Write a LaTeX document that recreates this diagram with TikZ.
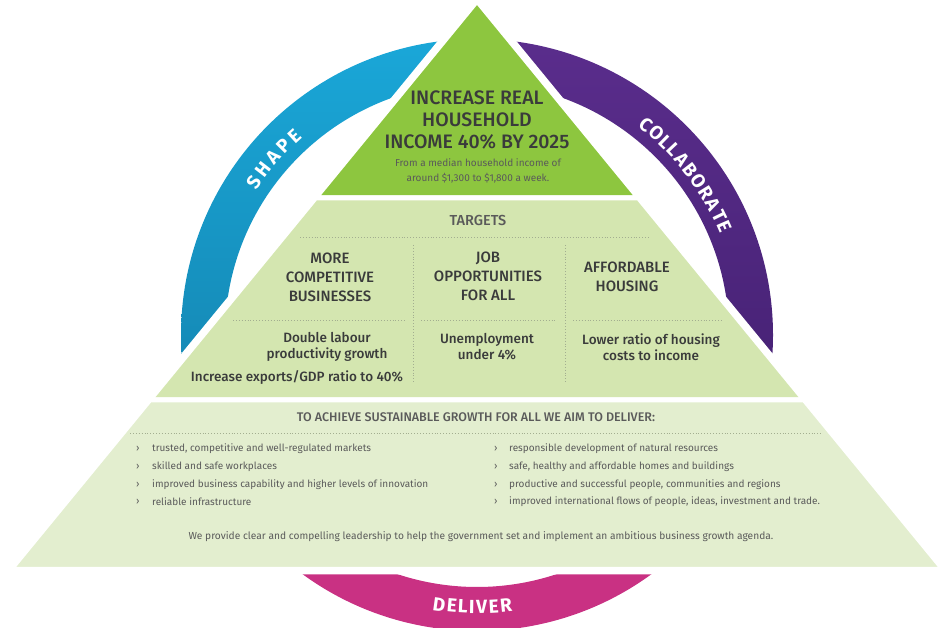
\documentclass[tikz,border=0pt]{standalone}
\usepackage{fontspec}
\setmainfont{Fira Sans}[BoldFont={* Medium}]
\newfontfamily\ringfont{Fira Sans}
\usetikzlibrary{positioning}

\definecolor{shapeblue}{HTML}{1AA7D8}
\definecolor{shapelight}{HTML}{1EB4E4}
\definecolor{shapedark}{HTML}{127AA4}
\definecolor{collabpurple}{HTML}{5A2D8C}
\definecolor{collabdark}{HTML}{3E1D6B}
\definecolor{deliverpink}{HTML}{E2449A}
\definecolor{deliverdark}{HTML}{C93183}
\definecolor{goalgreen}{HTML}{8DC63F}
\definecolor{targetgreen}{HTML}{D4E6B0}
\definecolor{deliverygreen}{HTML}{E3EECF}
\definecolor{inkgray}{HTML}{3A3B3B}
\definecolor{softgray}{HTML}{5A5A5A}
\definecolor{rulegray}{HTML}{A3AE90}

\tikzset{
    band/.style={draw=white, line width=5pt, line join=miter},
    dotrule/.style={draw=rulegray, dotted, line width=0.9pt},
    ringletter/.style={text=white, inner sep=0pt, font=\ringfont\bfseries\fontsize{19}{19}\selectfont},
    headtext/.style={text=inkgray, align=center, font=\bfseries\fontsize{15}{19}\selectfont},
    bodytext/.style={text=inkgray, align=center, font=\bfseries\fontsize{13.5}{16}\selectfont},
    bullettext/.style={text=softgray, anchor=west, inner sep=0pt, font=\fontsize{10}{11}\selectfont}
}

\begin{document}
\begin{tikzpicture}[x=1pt, y=1pt]
    \useasboundingbox (0,0) rectangle (940,628);
    \coordinate (ring) at (477,293);
    % the ring behind the pyramid
    \shade [top color=shapeblue, middle color=shapelight, bottom color=shapedark] ([shift={(90:296pt)}]ring) arc [start angle=90, end angle=225, radius=296pt] -- ([shift={(225:252pt)}]ring) arc [start angle=225, end angle=90, radius=252pt] -- cycle;
    \shade [left color=deliverdark, middle color=deliverpink, right color=deliverdark] ([shift={(225:296pt)}]ring) arc [start angle=225, end angle=315, radius=296pt] -- ([shift={(315:252pt)}]ring) arc [start angle=315, end angle=225, radius=252pt] -- cycle;
    \shade [top color=collabpurple, bottom color=collabdark] ([shift={(-45:296pt)}]ring) arc [start angle=-45, end angle=90, radius=296pt] -- ([shift={(90:252pt)}]ring) arc [start angle=90, end angle=-45, radius=252pt] -- cycle;
    \foreach \ch/\a [count=\i] in {S/145.5, H/142.27, A/138.86, P/135.6, E/132.5}
        \node (shape\i) [ringletter, rotate=\a-90] at ([shift={(\a:270pt)}]ring) {\ch};
    \foreach \ch/\a [count=\i] in {C/51.3, O/48.37, L/45.64, L/43.29, A/40.67, B/37.76, O/34.74, R/31.76, A/28.89, T/26.17, E/23.6}
        \node (collab\i) [ringletter, rotate=\a-90] at ([shift={(\a:270pt)}]ring) {\ch};
    \foreach \ch/\a [count=\i] in {D/262.0, E/264.7, L/267.0, I/268.9, V/271.0, E/273.5, R/276.1}
        \node (deliver\i) [ringletter, rotate=\a+90] at ([shift={(\a:272pt)}]ring) {\ch};
    % pyramid
    \draw [white, fill=white, line width=10pt, line join=miter] (477,627) -- (10.8,58.5) -- (943.2,58.5) -- cycle;
    \draw [band, fill=goalgreen] (477,627) -- (315.5,430) -- (638.5,430) -- cycle;
    \draw [band, fill=targetgreen] (315.5,430) -- (149.8,228) -- (804.2,228) -- (638.5,430) -- cycle;
    \draw [band, fill=deliverygreen] (149.8,228) -- (10.8,58.5) -- (943.2,58.5) -- (804.2,228) -- cycle;
    % goal
    \node (goal) [text=inkgray, align=center, font=\bfseries\fontsize{19.5}{22}\selectfont] at (477,508) {INCREASE REAL\\HOUSEHOLD\\INCOME 40\% BY 2025};
    \node (goalnote) [text=softgray, align=center, font=\fontsize{10}{15}\selectfont] at (478,457.5) {From a median household income of\\around \$1,300 to \$1,800 a week.};
    % targets
    \node (targets) [text=softgray, font=\bfseries\fontsize{14.5}{14.5}\selectfont] at (478,408) {TARGETS};
    \draw [dotrule] (300,391) -- (650,391);
    \draw [dotrule] (413,383) -- (413,245);
    \draw [dotrule] (565,383) -- (565,245);
    \draw [dotrule] (233,308) -- (405,308);
    \draw [dotrule] (421,308) -- (557,308);
    \draw [dotrule] (573,308) -- (722,308);
    \node (business) [headtext] at (330,351) {MORE\\COMPETITIVE\\BUSINESSES};
    \node (jobs) [headtext] at (488,351.5) {JOB\\OPPORTUNITIES\\FOR ALL};
    \node (housing) [headtext] at (627,351) {AFFORDABLE\\HOUSING};
    \node (productivity) [bodytext] at (327,281) {Double labour\\productivity growth};
    \node (exports) [bodytext] at (297,251) {Increase exports/GDP ratio to 40\%};
    \node (unemployment) [bodytext] at (487,281) {Unemployment\\under 4\%};
    \node (housingcost) [bodytext] at (651,281) {Lower ratio of housing\\costs to income};
    % delivery
    \node (aim) [text=softgray, font=\bfseries\fontsize{12.5}{12.5}\selectfont] at (476,211) {TO ACHIEVE SUSTAINABLE GROWTH FOR ALL WE AIM TO DELIVER:};
    \draw [dotrule] (130,195) -- (822,195);
    \foreach \txt [count=\i, evaluate=\i as \y using {196.7-17.7*\i}] in {{trusted, competitive and well-regulated markets}, {skilled and safe workplaces}, {improved business capability and higher levels of innovation}, {reliable infrastructure}} {
        \node (lmark\i) [bullettext] at (136,\y) {›};
        \node (litem\i) [bullettext] at (152,\y) {\txt};
    }
    \foreach \txt [count=\i, evaluate=\i as \y using {196.7-17.7*\i}] in {{responsible development of natural resources}, {safe, healthy and affordable homes and buildings}, {productive and successful people, communities and regions}, {improved international flows of people, ideas, investment and trade.}} {
        \node (rmark\i) [bullettext] at (494,\y) {›};
        \node (ritem\i) [bullettext] at (509,\y) {\txt};
    }
    \node (leadership) [text=softgray, font=\fontsize{10.2}{10.2}\selectfont] at (481,91) {We provide clear and compelling leadership to help the government set and implement an ambitious business growth agenda.};
\end{tikzpicture}
\end{document}
